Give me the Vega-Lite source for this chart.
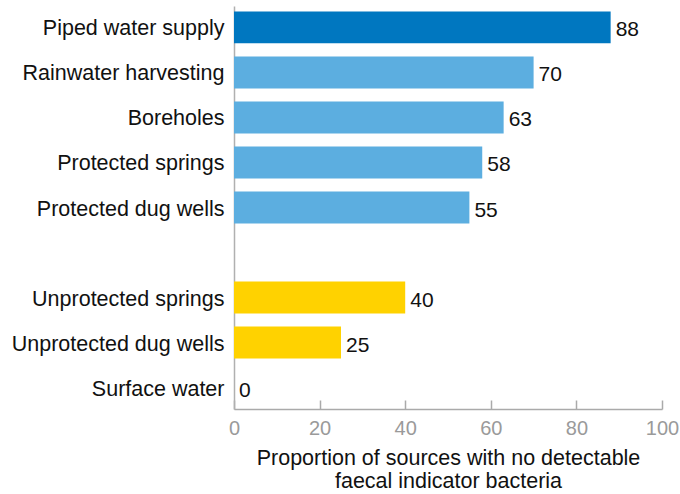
{
  "$schema": "https://vega.github.io/schema/vega-lite/v6.json",
  "width": 428,
  "height": 403,
  "autosize": {"type": "none"},
  "padding": {"left": 234, "top": 6, "right": 18, "bottom": 85},
  "background": "white",
  "config": {
    "view": {"stroke": null},
    "font": "Liberation Sans"
  },
  "data": {
    "values": [
      {"source": "Piped water supply", "value": 88, "group": "piped"},
      {"source": "Rainwater harvesting", "value": 70, "group": "improved"},
      {"source": "Boreholes", "value": 63, "group": "improved"},
      {"source": "Protected springs", "value": 58, "group": "improved"},
      {"source": "Protected dug wells", "value": 55, "group": "improved"},
      {"source": "Unprotected springs", "value": 40, "group": "unimproved"},
      {"source": "Unprotected dug wells", "value": 25, "group": "unimproved"},
      {"source": "Surface water", "value": 0, "group": "unimproved"}
    ]
  },
  "encoding": {
    "y": {
      "field": "source",
      "type": "nominal",
      "scale": {
        "domain": ["Piped water supply", "Rainwater harvesting", "Boreholes", "Protected springs", "Protected dug wells", "gap", "Unprotected springs", "Unprotected dug wells", "Surface water"],
        "paddingInner": 0.29,
        "paddingOuter": 0.12
      },
      "axis": {
        "title": null,
        "ticks": false,
        "labelExpr": "datum.label == 'gap' ? '' : datum.label",
        "labelFontSize": 21.5,
        "labelColor": "#111111",
        "labelPadding": 10,
        "labelOffset": 2,
        "domainColor": "#b0b0b0",
        "domainWidth": 1.5,
        "labelLimit": 300
      }
    },
    "x": {
      "field": "value",
      "type": "quantitative",
      "scale": {"domain": [0, 100], "nice": false},
      "axis": {
        "values": [0, 20, 40, 60, 80, 100],
        "grid": false,
        "tickSize": -9,
        "tickColor": "#aaaaaa",
        "domainColor": "#aaaaaa",
        "domainWidth": 1.5,
        "tickWidth": 1.5,
        "labelColor": "#9a9a9a",
        "labelFontSize": 20,
        "labelPadding": 18,
        "labelFlush": false,
        "title": ["Proportion of sources with no detectable", "faecal indicator bacteria"],
        "titleFontSize": 21.5,
        "titleFontWeight": "normal",
        "titleColor": "#111111",
        "titleLineHeight": 23,
        "titlePadding": 9
      }
    }
  },
  "layer": [
    {
      "mark": {"type": "bar"},
      "encoding": {
        "color": {
          "field": "group",
          "type": "nominal",
          "scale": {"domain": ["piped", "improved", "unimproved"], "range": ["#0077c0", "#5caee0", "#ffd200"]},
          "legend": null
        }
      }
    },
    {
      "mark": {"type": "text", "align": "left", "baseline": "middle", "dx": 5, "dy": 3, "fontSize": 21, "color": "#111111"},
      "encoding": {
        "text": {"field": "value", "type": "quantitative"}
      }
    }
  ]
}
